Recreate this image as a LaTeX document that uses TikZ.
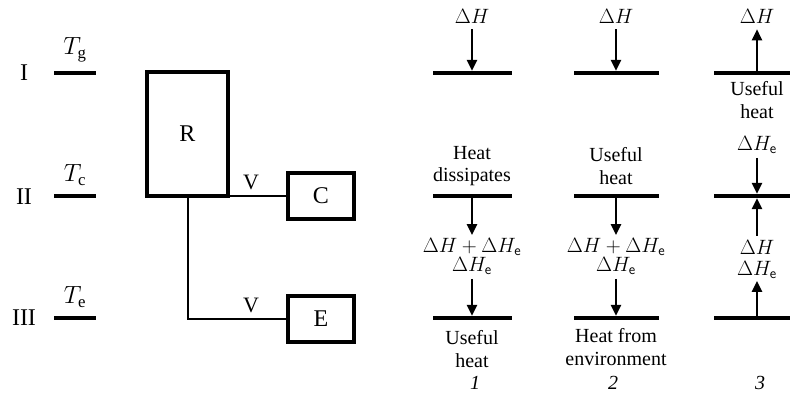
\documentclass[tikz,border=0pt]{standalone}
\usepackage{fontspec}
\setmainfont{Liberation Serif}
\usetikzlibrary{arrows.meta}
\begin{document}
\begin{tikzpicture}[x=1pt,y=-1pt,
  lbl/.style={inner sep=0pt, font=\fontsize{20}{22.5}\selectfont, align=center},
  mlbl/.style={inner sep=0pt, font=\fontsize{21}{22.5}\selectfont},
  big/.style={inner sep=0pt, font=\fontsize{24}{26}\selectfont},
  vlbl/.style={inner sep=0pt, font=\fontsize{22}{26}\selectfont},
  levelbar/.style={fill=black, inner sep=0pt, outer sep=0pt, minimum height=4.3pt, draw=none},
  shortbar/.style={levelbar, minimum width=42pt},
  box/.style={draw, line width=4pt, inner sep=0pt, outer sep=0pt, font=\fontsize{24}{26}\selectfont},
  wire/.style={line width=2pt},
  flow/.style={line width=2.3pt, -{Triangle[length=11pt,width=10pt]}}
]
\useasboundingbox (0,0) rectangle (790,401);

% ---- left part
\node[big] (nI) at (24,73) {I};
\node[big] (nII) at (24,197) {II};
\node[big] (nIII) at (24,318) {III};
\node[shortbar] (lI) at (75,73) {};
\node[shortbar] (lII) at (75,196) {};
\node[shortbar] (lIII) at (75,318) {};
\node[big] (Tg) at (75,50) {$T_{\mathrm{g}}$};
\node[big] (Tc) at (75,175) {$T_{\mathrm{c}}$};
\node[big] (Te) at (75,297) {$T_{\mathrm{e}}$};

\node[box, minimum width=81pt, minimum height=124pt] (R) at (187.5,134) {R};
\node[box, minimum width=66pt, minimum height=46pt] (C) at (321,196) {C};
\node[box, minimum width=66pt, minimum height=46pt] (E) at (321,319) {E};
\draw[wire] (R.south east) -- (C.west);
\draw[wire] (R.south) |- (E.west);
\node[vlbl] (V1) at (251,182) {V};
\node[vlbl] (V2) at (251,305) {V};

% ---- column 1
\node[levelbar, minimum width=79pt] (b1I) at (472,73) {};
\node[levelbar, minimum width=79pt] (b1II) at (472,196) {};
\node[levelbar, minimum width=79pt] (b1III) at (472,318) {};
\node[mlbl] (h1) at (472,16) {$\Delta H$};
\draw[flow, shorten <=6pt] (h1) -- (b1I.north);
\node[lbl] (t1a) at (472,166) {Heat\\dissipates};
\draw[flow] (b1II.south) -- ++(0,37) coordinate (k1);
\node[mlbl] (s1) at (472,247) {$\Delta H + \Delta H_{\mathsf{e}}$};
\node[mlbl] (e1) at (472,266) {$\Delta H_{\mathsf{e}}$};
\draw[flow, shorten <=4pt] (e1) -- (b1III.north);
\node[lbl] (t1b) at (472,349) {Useful\\heat};
\node[lbl] (n1) at (475,383) {\itshape 1};

% ---- column 2
\node[levelbar, minimum width=85pt] (b2I) at (616.5,73) {};
\node[levelbar, minimum width=85pt] (b2II) at (616.5,196) {};
\node[levelbar, minimum width=85pt] (b2III) at (616.5,318) {};
\node[mlbl] (h2) at (616,16) {$\Delta H$};
\draw[flow, shorten <=6pt] (h2) -- (b2I.north -| h2);
\node[lbl] (t2a) at (616,166) {Useful\\heat};
\draw[flow] (b2II.south -| h2) -- ++(0,37) coordinate (k2);
\node[mlbl] (s2) at (616,247) {$\Delta H + \Delta H_{\mathsf{e}}$};
\node[mlbl] (e2) at (616,266) {$\Delta H_{\mathsf{e}}$};
\draw[flow, shorten <=4pt] (e2) -- (b2III.north -| h2);
\node[lbl] (t2b) at (616,347) {Heat from\\environment};
\node[lbl] (n2) at (613,383) {\itshape 2};

% ---- column 3
\node[levelbar, minimum width=76pt] (b3I) at (752,73) {};
\node[levelbar, minimum width=76pt] (b3II) at (752,196) {};
\node[levelbar, minimum width=76pt] (b3III) at (752,318) {};
\node[mlbl] (h3) at (757,16) {$\Delta H$};
\draw[flow, shorten >=6pt] (b3I.north -| h3) -- (h3);
\node[lbl] (t3a) at (757,100) {Useful\\heat};
\node[mlbl] (e3a) at (757,145) {$\Delta H_{\mathsf{e}}$};
\draw[flow, shorten <=4pt] (e3a) -- (b3II.north -| h3);
\node[mlbl] (h3b) at (757,247) {$\Delta H$};
\node[mlbl] (e3b) at (757,270) {$\Delta H_{\mathsf{e}}$};
\draw[flow, shorten <=4pt] (h3b) -- (b3II.south -| h3);
\draw[flow, shorten >=2pt] (b3III.north -| h3) -- (e3b);
\node[lbl] (n3) at (760,383) {\itshape 3};
\end{tikzpicture}
\end{document}
